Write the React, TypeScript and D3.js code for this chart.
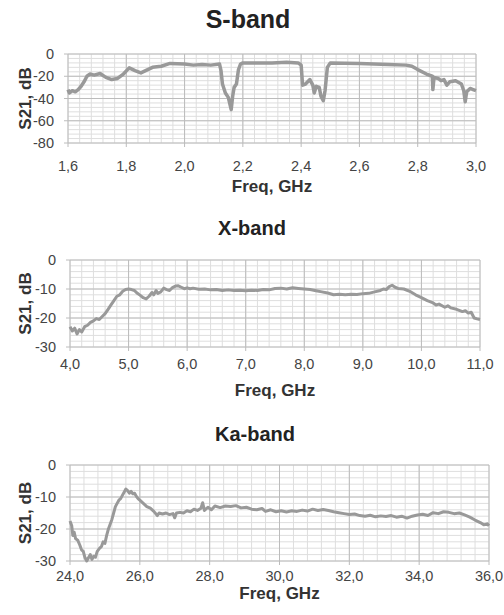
import React from 'react';
import * as d3 from 'd3';

// S-band: [GHz, dB]
const sBand: [number, number][] = [
  [1.6, -32], [1.605, -35], [1.615, -33], [1.625, -34], [1.635, -32], [1.645, -29], [1.655, -25],
  [1.665, -20], [1.675, -18], [1.69, -19], [1.71, -17.5], [1.73, -21], [1.75, -23], [1.77, -22],
  [1.79, -18], [1.81, -12.5], [1.83, -15], [1.85, -17], [1.87, -14.5], [1.89, -12], [1.92, -11],
  [1.95, -8.5], [2.0, -9], [2.03, -10], [2.06, -9.5], [2.09, -10], [2.12, -9], [2.125, -15],
  [2.13, -27], [2.14, -35], [2.15, -39], [2.16, -50], [2.165, -38], [2.17, -30], [2.178, -27],
  [2.185, -14], [2.192, -9], [2.2, -8], [2.3, -8], [2.35, -7.5], [2.39, -8], [2.4, -10],
  [2.405, -28], [2.415, -27], [2.43, -23], [2.44, -28], [2.445, -35], [2.452, -29], [2.462, -30],
  [2.468, -38], [2.476, -42], [2.482, -33], [2.49, -12], [2.5, -8], [2.6, -8.5], [2.7, -9.5],
  [2.76, -10], [2.78, -11], [2.8, -14], [2.83, -18], [2.85, -20], [2.852, -32], [2.856, -21],
  [2.87, -22], [2.88, -24], [2.89, -23], [2.9, -28], [2.91, -25], [2.93, -24], [2.95, -27],
  [2.958, -33], [2.963, -43], [2.968, -34], [2.98, -31], [2.99, -32], [3.0, -33],
];

// X-band: [GHz, dB]
const xBand: [number, number][] = [
  [4.0, -23], [4.04, -24.5], [4.08, -23.5], [4.12, -25.5], [4.16, -24], [4.2, -24.8], [4.25, -23],
  [4.3, -22.5], [4.35, -21.5], [4.4, -21], [4.45, -20.2], [4.5, -20.5], [4.55, -19.5], [4.6, -18.5],
  [4.65, -17], [4.7, -15.5], [4.75, -14], [4.8, -12.5], [4.85, -12], [4.9, -10.8], [4.95, -10.2],
  [5.0, -10], [5.05, -10.2], [5.1, -10.5], [5.15, -11.5], [5.2, -12.2], [5.25, -13], [5.3, -13.4],
  [5.35, -12.5], [5.4, -11.2], [5.43, -12], [5.47, -10.5], [5.5, -11.5], [5.55, -11], [5.6, -9.7],
  [5.65, -10.2], [5.7, -10.5], [5.75, -9.5], [5.8, -9], [5.85, -8.9], [5.9, -9.4], [5.95, -9.9],
  [6.0, -9.6], [6.05, -9.9], [6.1, -9.7], [6.2, -10.1], [6.3, -10], [6.4, -10.3], [6.5, -10.2],
  [6.6, -10.5], [6.7, -10.3], [6.8, -10.5], [6.9, -10.4], [7.0, -10.6], [7.1, -10.4], [7.2, -10.5],
  [7.3, -10.2], [7.4, -10.3], [7.5, -9.8], [7.6, -9.7], [7.7, -10], [7.8, -9.6], [7.9, -9.8],
  [8.0, -10], [8.1, -10.2], [8.2, -10.6], [8.3, -11], [8.4, -11.4], [8.5, -12], [8.6, -11.8],
  [8.7, -12], [8.8, -11.8], [8.9, -11.9], [9.0, -11.6], [9.1, -11.5], [9.2, -11], [9.3, -10.5],
  [9.35, -10], [9.4, -10.2], [9.45, -9.2], [9.5, -8.7], [9.55, -9.4], [9.6, -9.8], [9.7, -10],
  [9.8, -10.8], [9.9, -12], [10.0, -13], [10.1, -14], [10.2, -14.8], [10.25, -15.5], [10.3, -15.2],
  [10.4, -16.3], [10.45, -15.8], [10.5, -16.5], [10.6, -17], [10.7, -17.8], [10.75, -17.5],
  [10.8, -18.3], [10.85, -18], [10.9, -20], [10.95, -20.3], [11.0, -20.5],
];

// Ka-band: [GHz, dB]
const kaBand: [number, number][] = [
  [24.0, -17.5], [24.05, -19], [24.08, -22], [24.12, -21], [24.16, -23], [24.22, -23.5], [24.28, -25],
  [24.33, -26.5], [24.38, -27], [24.43, -29], [24.48, -30], [24.53, -29], [24.58, -28], [24.63, -29.5],
  [24.68, -28.5], [24.73, -28.8], [24.78, -27], [24.85, -26], [24.9, -25.5], [24.95, -24], [25.0, -24.5],
  [25.05, -22], [25.1, -20], [25.15, -18.5], [25.2, -17], [25.25, -15], [25.3, -13], [25.35, -12],
  [25.4, -11], [25.45, -10.5], [25.5, -9.5], [25.55, -8.5], [25.6, -7.5], [25.65, -8], [25.7, -8.8],
  [25.75, -8.2], [25.8, -9], [25.85, -8.8], [25.9, -9.8], [25.95, -10.5], [26.0, -11], [26.1, -12],
  [26.2, -13], [26.3, -13.5], [26.4, -14.5], [26.5, -15.8], [26.55, -15], [26.65, -15.3], [26.75, -15],
  [26.85, -15.5], [26.95, -15.2], [27.0, -16.5], [27.05, -15], [27.15, -14.8], [27.25, -15],
  [27.35, -14.3], [27.45, -14.6], [27.55, -13.8], [27.65, -14.2], [27.75, -13.5], [27.8, -11.8],
  [27.85, -14.2], [27.95, -13.2], [28.05, -14], [28.15, -12.8], [28.3, -13.3], [28.45, -12.8],
  [28.6, -13], [28.75, -12.7], [28.9, -13.4], [29.05, -13.2], [29.2, -13.8], [29.35, -14], [29.5, -13.6],
  [29.6, -14.5], [29.75, -14], [29.9, -14.6], [30.05, -14.3], [30.2, -14.7], [30.35, -14.3], [30.5, -14.5],
  [30.65, -14.1], [30.8, -14.4], [30.95, -13.8], [31.1, -14.2], [31.25, -13.9], [31.4, -14.2],
  [31.55, -14.6], [31.7, -14.9], [31.85, -15.2], [32.0, -15.5], [32.15, -15.3], [32.3, -15.8],
  [32.45, -16], [32.6, -15.7], [32.75, -16.2], [32.9, -15.9], [33.05, -16.1], [33.2, -15.8],
  [33.35, -16.3], [33.5, -16], [33.65, -16.6], [33.8, -16], [33.95, -15.6], [34.1, -15.4], [34.25, -15.8],
  [34.4, -14.9], [34.55, -15.2], [34.7, -14.6], [34.85, -14.8], [35.0, -15.2], [35.15, -15], [35.3, -15.6],
  [35.45, -16.3], [35.6, -17.2], [35.75, -18], [35.85, -18.7], [35.95, -18.4], [36.0, -19],
];

const sXTicks = [1.6, 1.8, 2.0, 2.2, 2.4, 2.6, 2.8, 3.0];
const sYTicks = [0, -20, -40, -60, -80];
const xXTicks = [4, 5, 6, 7, 8, 9, 10, 11];
const xYTicks = [0, -10, -20, -30];
const kaXTicks = [24, 26, 28, 30, 32, 34, 36];
const kaYTicks = [0, -10, -20, -30];

const FONT = "'Liberation Sans', Arial, sans-serif";
const fmt = (v: number) => v.toFixed(1).replace('.', ',');

type PanelProps = {
  title: string;
  titleSize: number;
  titleX: number;
  titleY: number;
  data: [number, number][];
  xTicks: number[];
  yTicks: number[];
  xMinor: number; // minor step in GHz
  yMinor: number; // minor step in dB
  left: number; right: number; top: number; bottom: number;
  tickY: number; labelY: number;
  lineW: number;
};

function Panel(p: PanelProps) {
  const x = d3.scaleLinear().domain([p.xTicks[0], p.xTicks[p.xTicks.length - 1]]).range([p.left, p.right]);
  const y = d3.scaleLinear().domain([p.yTicks[p.yTicks.length - 1], p.yTicks[0]]).range([p.bottom, p.top]);
  const [x0, x1] = x.domain();
  const [y0, y1] = y.domain();
  const xMinor = d3.range(0, Math.round((x1 - x0) / p.xMinor) + 1).map(i => x0 + i * p.xMinor);
  const yMinor = d3.range(0, Math.round((y1 - y0) / p.yMinor) + 1).map(i => y0 + i * p.yMinor);
  const line = d3.line<[number, number]>().x(d => x(d[0])).y(d => y(d[1]));
  const midX = (p.left + p.right) / 2;
  const midY = (p.top + p.bottom) / 2;
  return (
    <g>
      <text x={p.titleX} y={p.titleY} textAnchor="middle" fontSize={p.titleSize} fontWeight="bold" fill="#222">{p.title}</text>
      {xMinor.map((v, i) => (
        <line key={'xm' + i} x1={x(v)} x2={x(v)} y1={p.top} y2={p.bottom} stroke="#dedede" strokeWidth={1} />
      ))}
      {yMinor.map((v, i) => (
        <line key={'ym' + i} x1={p.left} x2={p.right} y1={y(v)} y2={y(v)} stroke="#dedede" strokeWidth={1} />
      ))}
      {p.xTicks.map((v, i) => (
        <line key={'xj' + i} x1={x(v)} x2={x(v)} y1={p.top} y2={p.bottom + 4} stroke="#bcbcbc" strokeWidth={1} />
      ))}
      {p.yTicks.map((v, i) => (
        <line key={'yj' + i} x1={p.left - 4} x2={p.right} y1={y(v)} y2={y(v)} stroke="#bcbcbc" strokeWidth={1} />
      ))}
      <path d={line(p.data) || ''} fill="none" stroke="#999" strokeWidth={p.lineW} strokeLinejoin="round" />
      {p.xTicks.map((v, i) => (
        <text key={'xt' + i} x={x(v)} y={p.tickY} textAnchor="middle" fontSize={14.5} fill="#444">{fmt(v)}</text>
      ))}
      {p.yTicks.map((v, i) => (
        <text key={'yt' + i} x={p.left - 14} y={y(v)} dy="0.35em" textAnchor="end" fontSize={14.5} fill="#444">{v}</text>
      ))}
      <text transform={`translate(31,${midY}) rotate(-90)`} textAnchor="middle" fontSize={17} fontWeight="bold" fill="#333">S21, dB</text>
      <text x={midX} y={p.labelY} textAnchor="middle" fontSize={17} fontWeight="bold" fill="#333">Freq, GHz</text>
    </g>
  );
}

export default function App() {
  return (
    <svg width={504} height={615} style={{ position: 'absolute', left: 0, top: 0, fontFamily: FONT }}>
      <rect width={504} height={615} fill="#fff" />
      <Panel title="S-band" titleSize={25} titleX={248} titleY={28} data={sBand} xTicks={sXTicks} yTicks={sYTicks}
        xMinor={0.04} yMinor={4} left={68} right={476} top={54} bottom={143} tickY={171} labelY={192} lineW={3.5} />
      <Panel title="X-band" titleSize={20} titleX={252} titleY={235} data={xBand} xTicks={xXTicks} yTicks={xYTicks}
        xMinor={0.2} yMinor={2} left={70} right={480} top={260} bottom={347} tickY={369} labelY={396} lineW={3} />
      <Panel title="Ka-band" titleSize={20} titleX={255} titleY={441} data={kaBand} xTicks={kaXTicks} yTicks={kaYTicks}
        xMinor={0.4} yMinor={2} left={70} right={489} top={465} bottom={561} tickY={581} labelY={599} lineW={3} />
    </svg>
  );
}
